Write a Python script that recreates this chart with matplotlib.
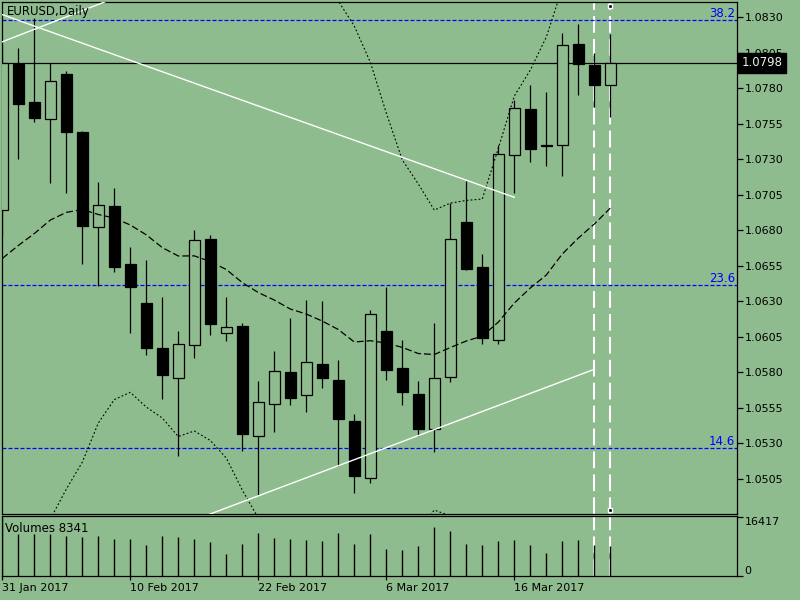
import matplotlib
matplotlib.use("Agg")
import matplotlib.pyplot as plt
import matplotlib.transforms as mtransforms
from matplotlib.patches import Rectangle
import numpy as np
import pandas as pd

nan = np.nan

# EURUSD daily, 31 Jan 2017 -> 24 Mar 2017
dates = pd.bdate_range("2017-01-31", "2017-03-24")

opens = [1.0694, 1.0797, 1.0770, 1.0758, 1.0790, 1.0749, 1.0682, 1.0697, 1.0656, 1.0629,
         1.0597, 1.0576, 1.0599, 1.0674, 1.0608, 1.0613, 1.0535, 1.0558, 1.0580, 1.0564,
         1.0586, 1.0575, 1.0546, 1.0506, 1.0609, 1.0583, 1.0565, 1.0540, 1.0577, 1.0686,
         1.0654, 1.0603, 1.0733, 1.0765, 1.0739, 1.0740, 1.0811, 1.0796, 1.0782]
highs = [1.0810, 1.0808, 1.0829, 1.0798, 1.0792, 1.0750, 1.0714, 1.0710, 1.0668, 1.0659,
         1.0633, 1.0609, 1.0680, 1.0677, 1.0633, 1.0615, 1.0574, 1.0595, 1.0618, 1.0631,
         1.0630, 1.0589, 1.0551, 1.0624, 1.0640, 1.0603, 1.0574, 1.0615, 1.0699, 1.0715,
         1.0663, 1.0740, 1.0772, 1.0782, 1.0777, 1.0819, 1.0825, 1.0805, 1.0818]
lows = [1.0677, 1.0730, 1.0756, 1.0713, 1.0706, 1.0656, 1.0641, 1.0651, 1.0608, 1.0592,
        1.0561, 1.0521, 1.0590, 1.0606, 1.0602, 1.0525, 1.0494, 1.0538, 1.0557, 1.0552,
        1.0569, 1.0514, 1.0495, 1.0502, 1.0575, 1.0557, 1.0535, 1.0524, 1.0573, 1.0652,
        1.0600, 1.0600, 1.0706, 1.0728, 1.0725, 1.0718, 1.0775, 1.0767, 1.0760]
closes = [1.0798, 1.0769, 1.0759, 1.0785, 1.0749, 1.0683, 1.0698, 1.0654, 1.0640, 1.0597,
          1.0578, 1.0600, 1.0673, 1.0614, 1.0612, 1.0537, 1.0559, 1.0581, 1.0562, 1.0587,
          1.0576, 1.0547, 1.0507, 1.0621, 1.0582, 1.0566, 1.0540, 1.0576, 1.0674, 1.0653,
          1.0604, 1.0734, 1.0766, 1.0737, 1.0740, 1.0810, 1.0797, 1.0782, 1.0798]
volumes = [16417, 11590, 11590, 11590, 11040, 10840, 11040, 10290, 10290, 8530,
           11040, 10760, 10290, 9450, 6030, 8810, 11870, 10480, 10200, 9920,
           9730, 11870, 8810, 11590, 7510, 7230, 8260, 13700, 12510, 8900,
           8620, 9730, 10010, 8620, 6480, 9730, 10010, 8620, 8341]

# indicator lines (moving average and the visible parts of the bands)
ma_line = [1.06602, 1.06693, 1.06777, 1.06872, 1.06926, 1.06946, 1.06911, 1.06886, 1.06837, 1.06768,
           1.06678, 1.06619, 1.06620, 1.06580, 1.06524, 1.06432, 1.06362, 1.06309, 1.06246, 1.06211,
           1.06161, 1.06102, 1.06014, 1.06023, 1.06007, 1.05976, 1.05933, 1.05926, 1.05975, 1.06021,
           1.06056, 1.06154, 1.06288, 1.06394, 1.06485, 1.06633, 1.06745, 1.06844, 1.06956]
upper_band = [nan, nan, nan, nan, nan, nan, nan, nan, nan, nan,
              nan, nan, nan, nan, nan, nan, nan, nan, nan, nan,
              1.08588, 1.08413, 1.08237, 1.07983, 1.07625, 1.07295, 1.07126, 1.06942, 1.06991, 1.07010,
              1.07020, 1.07376, 1.07744, 1.07927, 1.08159, 1.08504, 1.08736, nan, nan]
lower_band = [nan, nan, nan, 1.04768, 1.04979, 1.05169, 1.05444, 1.05609, 1.05660, 1.05556,
              1.05479, 1.05349, 1.05388, 1.05321, 1.05198, 1.04972, 1.04775, nan, nan, nan,
              nan, nan, nan, nan, nan, nan, 1.04684, 1.04832, 1.04790, nan,
              nan, nan, nan, nan, nan, nan, nan, nan, nan]

# fibonacci levels
fib_labels = ["38.2", "23.6", "14.6"]
fib_prices = [1.08279, 1.06415, 1.05266]

# white trend lines: (bar index pair, price pair)
trend_lines = [([0, 32], [1.08317, 1.07032]),
               ([0, 8], [1.08126, 1.08477]),
               ([12, 37], [1.04762, 1.05822])]

vline_dates = ["2017-03-23", "2017-03-24"]
date_ticks = ["2017-01-31", "2017-02-10", "2017-02-22", "2017-03-06", "2017-03-16"]
price_ticks = [1.0505, 1.0530, 1.0555, 1.0580, 1.0605, 1.0630, 1.0655,
               1.0680, 1.0705, 1.0730, 1.0755, 1.0780, 1.0805, 1.0830]

bg = "#8FBC8F"
plt.rcParams["font.family"] = ["DejaVu Sans"]
plt.rcParams["font.size"] = 8

W, H = 800, 600
fig = plt.figure(figsize=(8, 6), dpi=100, facecolor=bg)


def px_box(x0, y0, x1, y1):
    return [x0 / W, 1 - y1 / H, (x1 - x0) / W, (y1 - y0) / H]


ax = fig.add_axes(px_box(2, 2, 737, 514), facecolor=bg)
axv = fig.add_axes(px_box(2, 516, 737, 576), facecolor=bg, sharex=ax)

idx = np.arange(len(dates))
date_str = [d.strftime("%Y-%m-%d") for d in dates]

# vertical white dashed lines (behind the candles)
for d in vline_dates:
    i = date_str.index(d)
    for a in (ax, axv):
        a.axvline(i, color="white", lw=1.5, dashes=(8, 3), zorder=1)

# fibonacci levels
lab_tr = mtransforms.blended_transform_factory(ax.transAxes, ax.transData)
for lab, p in zip(fib_labels, fib_prices):
    ax.axhline(p, color="#0000FF", lw=0.9, dashes=(3.2, 1.6), zorder=1)
    ax.text(0.997, p, lab, transform=lab_tr, ha="right", va="bottom",
            color="#0000FF", fontsize=8.5, zorder=1)

# last price line
last = closes[-1]
ax.axhline(last, color="black", lw=0.9, zorder=1.5)

# candles
w = 0.66
ax.vlines(idx, lows, highs, color="black", lw=0.9, zorder=2)
for i in idx:
    o, c = opens[i], closes[i]
    bottom = min(o, c)
    h = max(abs(c - o), 0.00002)
    face = bg if c >= o else "black"
    ax.add_patch(Rectangle((i - w / 2, bottom), w, h, facecolor=face,
                           edgecolor="black", lw=0.9, zorder=3))

# indicators
ax.plot(idx, ma_line, color="black", lw=0.9, dashes=(5.5, 2.4), zorder=4)
ax.plot(idx, upper_band, color="black", lw=0.8, dashes=(1.6, 2.0), zorder=4)
ax.plot(idx, lower_band, color="black", lw=0.8, dashes=(1.6, 2.0), zorder=4)

# trend lines
for xs, ys in trend_lines:
    ax.plot(xs, ys, color="white", lw=1.0, zorder=5)

# selection markers on the last vertical line
mk_tr = mtransforms.blended_transform_factory(ax.transData, ax.transAxes)
i_sel = date_str.index(vline_dates[-1])
ax.plot([i_sel, i_sel], [0.993, 0.007], transform=mk_tr, ls="none", marker="s",
        ms=3.5, mfc="black", mec="white", mew=1, zorder=6, clip_on=False)

ax.set_xlim(-0.02, 45.92)
ax.set_ylim(1.04804, 1.08406)

ax.yaxis.tick_right()
ax.set_yticks(price_ticks)
ax.set_yticklabels([f"{t:.4f}" for t in price_ticks])
ax.tick_params(axis="y", direction="out", length=4, width=0.9, pad=1.5, colors="black")
ax.tick_params(axis="x", bottom=False, labelbottom=False)

# current price tag on the axis
ax.text(1.006, last, f"{last:.4f}", transform=lab_tr, ha="left", va="center",
        color="#E8F2E8", fontsize=8.5, zorder=10, clip_on=False,
        bbox=dict(boxstyle="square,pad=0.3", fc="black", ec="black"))

# volume panel
axv.vlines(idx, 0, volumes, color="black", lw=1.0, zorder=3)
axv.set_ylim(0, 16695)
axv.yaxis.tick_right()
vmax = max(volumes)
axv.set_yticks([0, vmax])
axv.set_yticklabels(["0", str(vmax)])
labs = axv.get_yticklabels()
labs[0].set_va("bottom")
labs[1].set_va("top")
axv.tick_params(axis="y", direction="out", length=4, width=0.9, pad=1.5)

tick_idx = [date_str.index(d) for d in date_ticks]
axv.set_xticks(tick_idx)
axv.set_xticklabels([f"{dates[i].day} {dates[i]:%b %Y}" for i in tick_idx], ha="left")
axv.tick_params(axis="x", direction="out", length=3, width=0.9, pad=2)

for a in (ax, axv):
    for s in a.spines.values():
        s.set_linewidth(0.9)
        s.set_color("black")

fig.text(7 / W, 1 - 11 / H, "EURUSD,Daily", ha="left", va="center", fontsize=8.5)
fig.text(5 / W, 1 - 528 / H, f"Volumes {volumes[-1]}", ha="left", va="center", fontsize=8.5)

fig.savefig("out.png", dpi=100, facecolor=bg)
